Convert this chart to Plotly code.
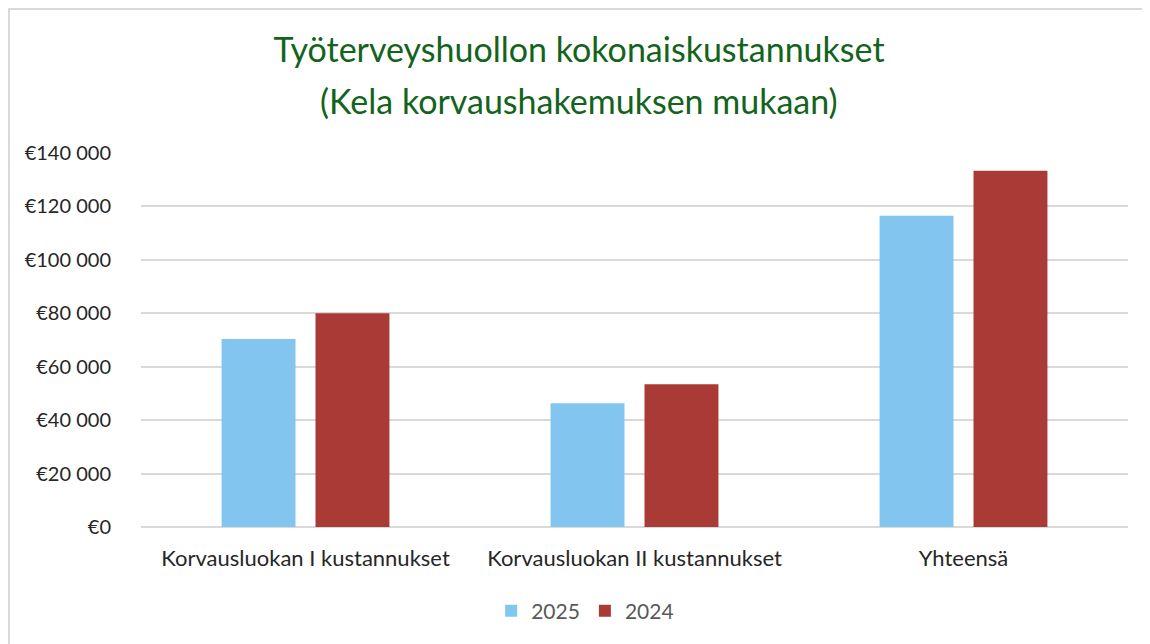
import plotly.graph_objects as go

categories = ["Korvausluokan I kustannukset", "Korvausluokan II kustannukset", "Yhteensä"]
values_2025 = [70400, 46300, 116500]
values_2024 = [80000, 53400, 133400]
series_names = ["2025", "2024"]
tick_values = [0, 20000, 40000, 60000, 80000, 100000, 120000, 140000]
tick_labels = ["€0", "€20 000", "€40 000", "€60 000", "€80 000", "€100 000", "€120 000", "€140 000"]
title_line1 = "Työterveyshuollon kokonaiskustannukset"
title_line2 = "(Kela korvaushakemuksen mukaan)"

FONT = "Lato"
TITLE_COLOR = "#13631C"
W, H = 1142, 636
L, T, R, B = 133, 145, 22, 117
PW, PH = W - L - R, H - T - B

fig = go.Figure()
fig.add_trace(go.Bar(x=categories, y=values_2025, name=series_names[0],
                     marker=dict(color="#82C6F0", line=dict(width=0))))
fig.add_trace(go.Bar(x=categories, y=values_2024, name=series_names[1],
                     marker=dict(color="#AA3A35", line=dict(width=0))))

fig.update_layout(
    width=W, height=H,
    paper_bgcolor="white", plot_bgcolor="white",
    margin=dict(l=L, r=R, t=T, b=B),
    barmode="group", bargap=0.429, bargroupgap=0.213,
    title=dict(
        text=title_line1,
        x=0.5, xanchor="center", xref="container", y=1 - 42 / H, yanchor="middle",
        font=dict(family=FONT, size=34, color=TITLE_COLOR),
    ),
    font=dict(family=FONT, size=20, color="#262626"),
    legend=dict(orientation="h", x=0.45, xanchor="center", y=-0.225, yanchor="middle",
                font=dict(family=FONT, size=21, color="#595959"),
                itemwidth=30, traceorder="normal"),
    showlegend=True,
)
fig.add_annotation(text=title_line2, xref="paper", yref="paper",
                   x=(W / 2 - L) / PW, y=1 + (T - 92) / PH, xanchor="center", yanchor="middle",
                   showarrow=False, font=dict(family=FONT, size=34, color=TITLE_COLOR))

fig.update_xaxes(showgrid=False, showline=False, ticks="", tickfont=dict(size=22, color="#262626"),
                 ticklabelstandoff=16)
fig.update_yaxes(range=[0, 140000], tickvals=tick_values, ticktext=tick_labels,
                 showgrid=True, gridcolor="#D9D9D9", gridwidth=1.5,
                 zeroline=True, zerolinecolor="#D9D9D9", zerolinewidth=1.5,
                 showline=False, ticks="", ticklabelstandoff=29,
                 tickfont=dict(size=20, color="#262626"))

# chart border (left and top edges of the chart frame)
fig.add_shape(type="rect", xref="paper", yref="paper",
              x0=(1 - L) / PW, x1=(W + 20 - L) / PW, y0=-(H + 20 - T - PH) / PH, y1=1 + (T - 1) / PH,
              line=dict(color="#D9D9D9", width=2), fillcolor="rgba(0,0,0,0)", layer="below")

fig.write_html("out.html")
